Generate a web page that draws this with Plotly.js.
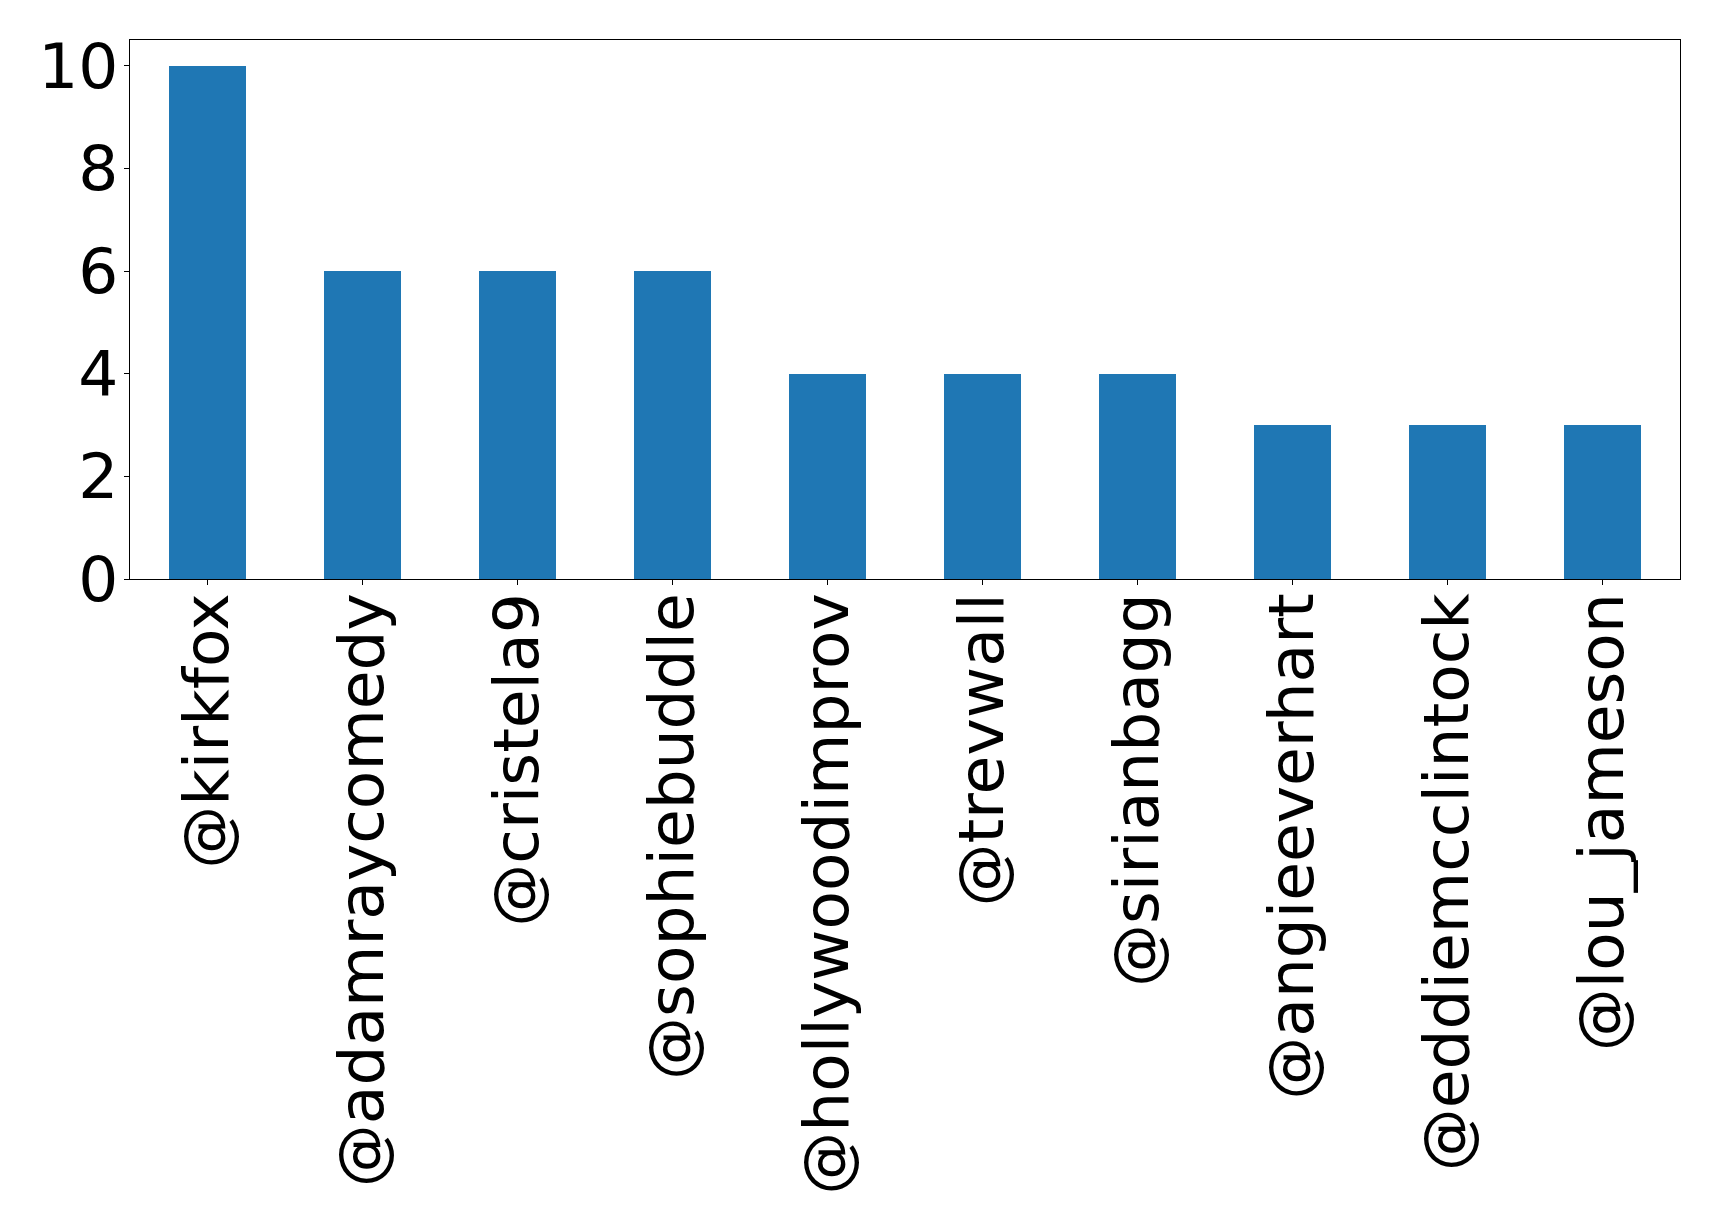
<!DOCTYPE html>
<html>
<head>
<meta charset="utf-8">
<script src="https://cdn.plot.ly/plotly-3.0.1.min.js"></script>
<style>html,body{margin:0;padding:0;background:#fff;}#chart{width:1719px;height:1225px;}</style>
</head>
<body>
<div id="chart"></div>
<script>
const users = ["@kirkfox","@adamraycomedy","@cristela9","@sophiebuddle","@hollywoodimprov","@trevwall","@sirianbagg","@angieeverhart","@eddiemcclintock","@lou_jameson"];
const counts = [10, 6, 6, 6, 4, 4, 4, 3, 3, 3];
const yTicks = [0, 2, 4, 6, 8, 10];

const trace = {
  type: 'bar',
  x: users.map((u, i) => i),
  y: counts,
  width: 0.5,
  marker: {color: '#1f77b4', line: {width: 0}},
  hoverinfo: 'x+y'
};

const font = {family: 'DejaVu Sans', size: 63, color: '#000'};
const layout = {
  width: 1719, height: 1225,
  margin: {l: 129.5, r: 39.3, t: 40.3, b: 646},
  paper_bgcolor: '#fff', plot_bgcolor: '#fff',
  showlegend: false,
  bargap: 0,
  xaxis: {
    range: [-0.5, 9.5],
    tickmode: 'array',
    tickvals: users.map((u, i) => i),
    ticktext: users,
    tickangle: -90,
    ticks: 'outside', ticklen: 5, tickwidth: 1, tickcolor: '#000',
    showline: true, linecolor: '#000', linewidth: 1, mirror: true,
    showgrid: false, zeroline: false,
    ticklabelstandoff: -17,
    tickfont: font, automargin: false
  },
  yaxis: {
    range: [0, 10.5],
    tickmode: 'array',
    tickvals: yTicks,
    ticktext: yTicks.map(String),
    ticks: 'outside', ticklen: 5, tickwidth: 1, tickcolor: '#000',
    showline: true, linecolor: '#000', linewidth: 1, mirror: true,
    showgrid: false, zeroline: false,
    ticklabelstandoff: -7,
    tickfont: font, automargin: false
  }
};

Plotly.newPlot('chart', [trace], layout, {displayModeBar: false, staticPlot: true});
</script>
</body>
</html>
